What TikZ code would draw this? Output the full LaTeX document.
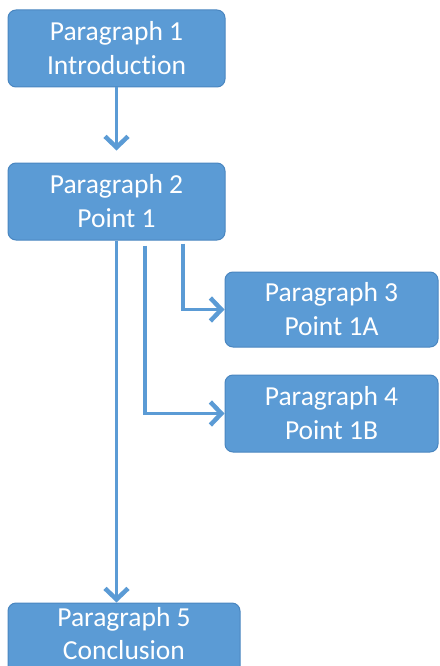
\documentclass[tikz,border=0pt]{standalone}
\usepackage{fontspec}
\setmainfont{Carlito}[Ligatures=CommonOff]
\usetikzlibrary{arrows.meta}
\definecolor{boxfill}{HTML}{5B9BD5}
\definecolor{boxline}{HTML}{4A86C0}
\definecolor{arrowc}{HTML}{5B9BD5}
\newcommand{\paratstrut}{\rule{0pt}{28pt}}
\tikzset{
  para/.style={draw=boxline, line width=1pt, fill=boxfill, rounded corners=8pt,
    text=white, align=center, font=\fontsize{27.5}{34}\selectfont, inner sep=0pt,
    execute at begin node=\paratstrut},
  paratext/.style={text=white, align=center, font=\fontsize{27.5}{33}\selectfont, inner sep=0pt,
    execute at begin node=\paratstrut},
  conn/.style={draw=arrowc, line width=3.5pt, -{Straight Barb[length=11pt,width=23pt,line width=4.5pt]}}
}
\begin{document}
\begin{tikzpicture}[x=1pt,y=-1pt]
\useasboundingbox (0,0) rectangle (439,666);
\clip (0,0) rectangle (439,666);
\node[para, minimum width=217pt, minimum height=77pt] (b1) at (116.5,48.5) {Paragraph 1\\Introduction};
\node[para, minimum width=217pt, minimum height=77pt] (b2) at (116.5,201.5) {Paragraph 2\\Point 1};
\node[para, minimum width=213pt, minimum height=75pt] (b3) at (331.5,309.5) {Paragraph 3\\Point 1A};
\node[para, minimum width=213pt, minimum height=77pt] (b4) at (331.5,413.5) {Paragraph 4\\Point 1B};
\node[draw=boxline, line width=1pt, fill=boxfill, rounded corners=8pt, minimum width=232pt, minimum height=77pt] (b5) at (124,641.5) {};
\node[paratext] (t5) at (124,634) {Paragraph 5\\Conclusion};
\draw[conn, shorten >=12pt] (b1.south) -- (b2.north);
\draw[conn] ([yshift=-3pt,xshift=66.5pt]b2.south) |- (b3.west);
\draw[conn] ([yshift=-5pt,xshift=28.5pt]b2.south) |- (b4.west);
\draw[conn] (b2.south) -- (b2.south |- b5.north);
\end{tikzpicture}
\end{document}
